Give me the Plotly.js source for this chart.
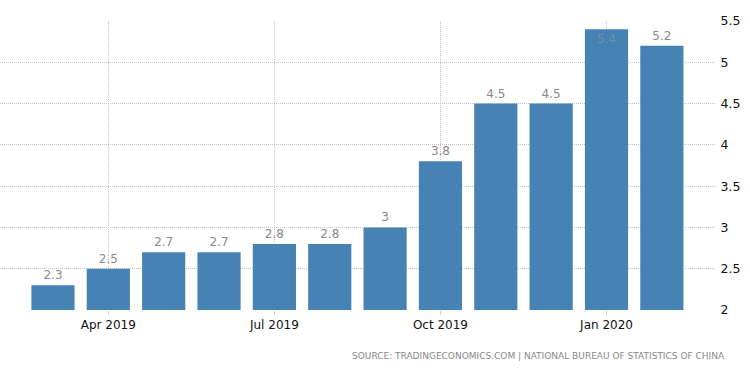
<!DOCTYPE html>
<html>
<head>
<meta charset="utf-8">
<script src="https://cdn.plot.ly/plotly-3.0.1.min.js"></script>
<style>html,body{margin:0;padding:0;background:#fff}#chart{width:750px;height:373px}</style>
</head>
<body>
<div id="chart"></div>
<script>
const months = ["Mar 2019","Apr 2019","May 2019","Jun 2019","Jul 2019","Aug 2019","Sep 2019","Oct 2019","Nov 2019","Dec 2019","Jan 2020","Feb 2020"];
const values = [2.3, 2.5, 2.7, 2.7, 2.8, 2.8, 3, 3.8, 4.5, 4.5, 5.4, 5.2];
const xTicks = ["Apr 2019","Jul 2019","Oct 2019","Jan 2020"];
const yTicks = [2, 2.5, 3, 3.5, 4, 4.5, 5, 5.5];
const sourceText = "SOURCE: TRADINGECONOMICS.COM | NATIONAL BUREAU OF STATISTICS OF CHINA";

const yMax = 5.5;
const positions = values.map(v => (v > yMax - 0.25 ? "inside" : "outside"));

const trace = {
  type: "bar",
  x: months,
  y: values,
  marker: {color: "#4682b4"},
  text: values.map(v => String(v)),
  textposition: positions,
  insidetextanchor: "end",
  textfont: {family: "DejaVu Sans, sans-serif", size: 12, color: "#8a8a8a"},
  insidetextfont: {family: "DejaVu Sans, sans-serif", size: 12, color: "#6f8fae"},
  outsidetextfont: {family: "DejaVu Sans, sans-serif", size: 12, color: "#8a8a8a"},
  cliponaxis: false,
  hoverinfo: "x+y"
};

const layout = {
  width: 750, height: 373,
  margin: {l: 0, r: 35, t: 21, b: 63},
  paper_bgcolor: "#fff", plot_bgcolor: "#fff",
  showlegend: false,
  bargap: 0.22,
  xaxis: {
    type: "category",
    range: [-0.957, 11.96],
    tickmode: "array",
    tickvals: xTicks,
    ticktext: xTicks,
    showgrid: true,
    gridcolor: "#c4c4c4",
    griddash: "1px,1px",
    gridwidth: 1,
    ticks: "outside", ticklen: 4, tickcolor: "#d0d0d0",
    tickfont: {family: "DejaVu Sans, sans-serif", size: 12, color: "#111"},
    zeroline: false, showline: false
  },
  yaxis: {
    side: "right",
    range: [2, 5.5],
    tickmode: "array",
    tickvals: yTicks,
    ticktext: yTicks.map(String),
    showgrid: true,
    gridcolor: "#c4c4c4",
    griddash: "1px,1px",
    gridwidth: 1,
    ticks: "outside", ticklen: 2, tickcolor: "rgba(0,0,0,0)",
    tickfont: {family: "DejaVu Sans, sans-serif", size: 12.5, color: "#111"},
    zeroline: false, showline: false
  },
  annotations: [{
    text: sourceText,
    xref: "paper", yref: "paper",
    x: 727/715, y: 0,
    xanchor: "right", yanchor: "middle",
    yshift: -46,
    showarrow: false,
    font: {family: "DejaVu Sans, sans-serif", size: 9, color: "#888"}
  }]
};

Plotly.newPlot("chart", [trace], layout, {displayModeBar: false, staticPlot: true});
</script>
</body>
</html>
